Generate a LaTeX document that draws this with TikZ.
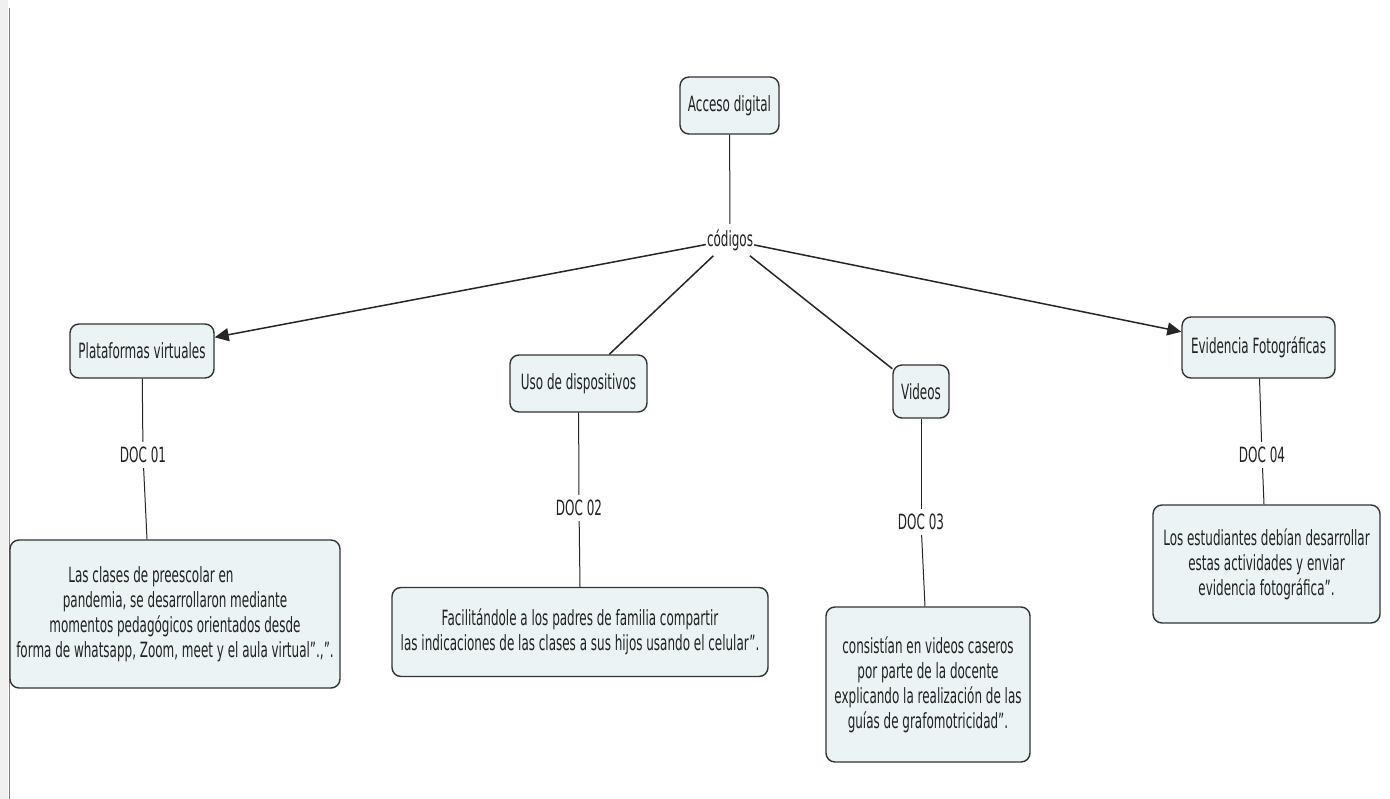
\documentclass[tikz,border=0pt]{standalone}
\usepackage{fontspec}
\setmainfont{DejaVu Sans}[FakeStretch=0.57]
\usetikzlibrary{arrows.meta}
\definecolor{boxfill}{HTML}{EBF3F4}
\definecolor{boxline}{HTML}{333333}
\definecolor{txt}{HTML}{222222}
\tikzset{
  concept/.style={draw=boxline, line width=1.4pt, fill=boxfill, rounded corners=9pt,
    text=txt, align=center, inner sep=0pt, font=\fontsize{21}{25}\selectfont},
  linklabel/.style={text=txt, inner xsep=1pt, inner ysep=5pt, font=\fontsize{21}{25}\selectfont},
  conn/.style={draw=black!85, line width=1.5pt},
  thin/.style={draw=black!85, line width=1pt},
  arr/.style={conn, -{Triangle[length=14pt,width=13pt]}}
}
\begin{document}
\begin{tikzpicture}[x=1pt,y=-1pt]
\useasboundingbox (0,0) rectangle (1390,799);
\fill[white] (0,0) rectangle (1390,799);
\fill[black!6] (0,0) rectangle (8,799);
\draw[black!50, line width=1pt] (9,8) -- (9,799);

\node[concept, minimum width=99pt, minimum height=57pt] (acc) at (729.5,105.5) {Acceso digital};
\node[linklabel] (cod) at (730,240) {códigos};

\node[concept, minimum width=144pt, minimum height=54pt] (plat) at (142,351) {Plataformas virtuales};
\node[concept, minimum width=137pt, minimum height=57pt] (uso) at (578.5,383.5) {Uso de dispositivos};
\node[concept, minimum width=56pt, minimum height=53pt] (vid) at (921,391.5) {Videos};
\node[concept, minimum width=153pt, minimum height=61pt] (evi) at (1258.5,347.5) {Evidencia Fotográficas};

\node[linklabel] (d1) at (143,455) {DOC 01};
\node[linklabel] (d2) at (579,508) {DOC 02};
\node[linklabel] (d3) at (921,522) {DOC 03};
\node[linklabel] (d4) at (1262,455) {DOC 04};

\node[concept, minimum width=330pt, minimum height=148pt] (b1) at (175,614)
  {Las clases de preescolar en\hspace*{48pt}\\
   pandemia, se desarrollaron mediante\hspace*{46pt}\\
   momentos pedagógicos orientados desde\hspace*{44pt}\\
   forma de whatsapp, Zoom, meet y el aula virtual”.,”.};
\node[concept, minimum width=376pt, minimum height=89pt] (b2) at (580,632)
  {Facilitándole a los padres de familia compartir\\
   las indicaciones de las clases a sus hijos usando el celular”.};
\node[concept, minimum width=204pt, minimum height=155pt] (b3) at (928,684.5)
  {consistían en videos caseros\\
   por parte de la docente\\
   explicando la realización de las\\
   guías de grafomotricidad”.};
\node[concept, minimum width=227pt, minimum height=118pt] (b4) at (1266.5,564)
  {Los estudiantes debían desarrollar\\
   estas actividades y enviar\\
   evidencia fotográfica”.};

\draw[thin] (acc) -- (cod);
\draw[arr] (cod) -- (plat);
\draw[conn] (cod) -- (uso);
\draw[conn] (cod) -- (vid);
\draw[arr] (cod) -- (evi);

\draw[thin] (plat) -- (d1);
\draw[thin] (d1) -- (b1.north -| 147,0);
\draw[thin] (uso) -- (d2);
\draw[thin] (d2) -- (b2.north);
\draw[thin] (vid) -- (d3);
\draw[thin] (d3) -- (b3.north -| 925,0);
\draw[thin] (evi) -- (d4);
\draw[thin] (d4) -- (b4.north -| 1264,0);
\end{tikzpicture}
\end{document}
